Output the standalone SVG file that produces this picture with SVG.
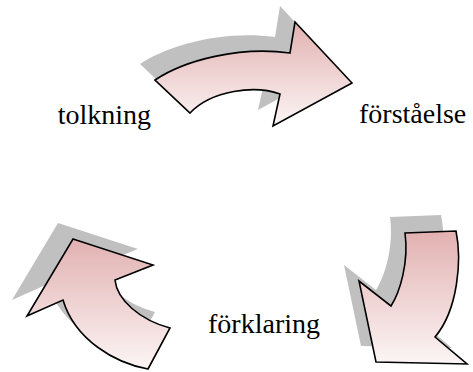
<svg xmlns="http://www.w3.org/2000/svg" width="473" height="372" viewBox="0 0 473 372">
  <defs>
    <linearGradient id="pinkFade" x1="0" y1="0" x2="0" y2="1">
      <stop offset="0" stop-color="#e2b1b1"/>
      <stop offset="1" stop-color="#fcf5f5"/>
    </linearGradient>
    <style>
      .shadow { fill: #c0c0c0; stroke: none; }
      .arrow { fill: url(#pinkFade); stroke: #000; stroke-width: 1.6; stroke-linejoin: miter; }
      .label { font-family: "Liberation Serif", "DejaVu Serif", serif; font-size: 28px; font-weight: normal; fill: #000; }
    </style>
    <!-- curved block arrows, shared by shadow and body -->
    <path id="shapeTop" d="M155,80 C185,60 240,46 290,53 L295,22 L352,83 L273,126 L280,94 C255,85 212,90 190,113 Z"/>
    <path id="shapeRight" d="M405,233 L456,231 C462,260 458,310 435,337 L467,364 L376,362 L359,281 L391,306 C400,292 409,262 405,233 Z"/>
    <path id="shapeLeft" d="M73,239 L153,265 L115,280 C117,300 140,320 170,328 L148,369 C115,363 75,340 63,300 L27,316 Z"/>
  </defs>

  <g id="arrow-top">
    <use href="#shapeTop" class="shadow" transform="translate(-15,-16)"/>
    <use href="#shapeTop" class="arrow"/>
  </g>
  <g id="arrow-right">
    <use href="#shapeRight" class="shadow" transform="translate(-15,-16)"/>
    <use href="#shapeRight" class="arrow"/>
  </g>
  <g id="arrow-left">
    <use href="#shapeLeft" class="shadow" transform="translate(-15,-16)"/>
    <use href="#shapeLeft" class="arrow"/>
  </g>

  <g id="label-tolkning">
    <text class="label" x="151" y="124" text-anchor="end">tolkning</text>
  </g>
  <g id="label-forstaelse">
    <text class="label" x="359" y="123">förståelse</text>
  </g>
  <g id="label-forklaring">
    <text class="label" x="320" y="333" text-anchor="end">förklaring</text>
  </g>
</svg>
